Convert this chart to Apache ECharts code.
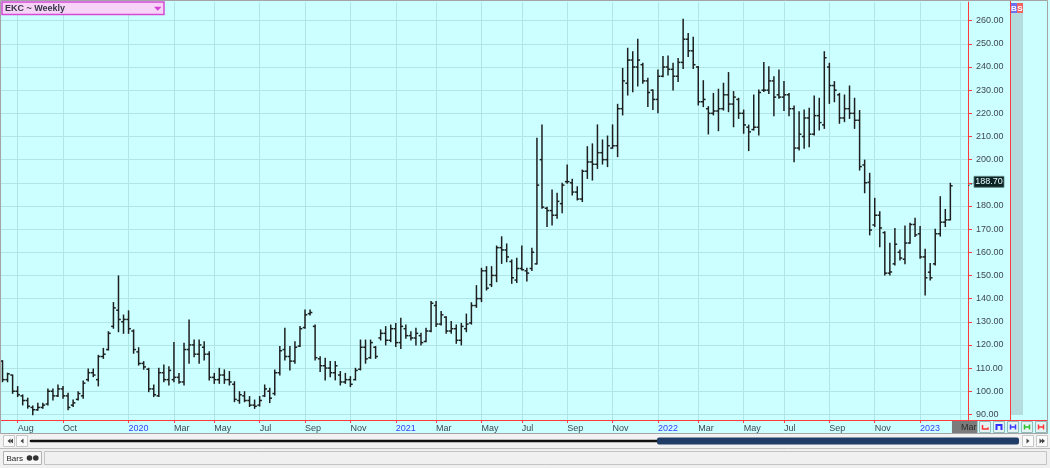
<!DOCTYPE html>
<html><head><meta charset="utf-8">
<script src="https://cdn.jsdelivr.net/npm/echarts@6/dist/echarts.min.js"></script>
<style>html,body{margin:0;padding:0;background:#ccffff;overflow:hidden}#c{width:1050px;height:468px}</style>
</head><body><div id="c"></div>
<script>
// ---- data (weekly OHLC, EKC) ----
const startDate = '2019-07-12';
const highs = [
113.2,107.8,107,102,98.4,97,93.6,94.8,94.8,101,
101,102.7,102,99.1,96.2,99.8,104.4,109.6,109.6,115.5,
118.5,125.7,138.3,149.8,132.9,134.7,126.5,118.8,112.8,109.9,
102.7,109.9,111.3,110.6,121,107.7,120.7,130.8,122.1,122.1,
121.4,117.1,107.7,109.9,109.2,108.5,104.1,99.8,99.8,97.7,
96.2,97.7,102.7,101.3,109.2,119.3,127.2,119.3,121.4,127.9,
135.1,135.1,128.6,114.9,114.2,112.8,112.8,108.5,107.7,106.3,
109.9,122.1,122.1,122.1,119.3,126.5,127.9,128.6,129.3,131.5,
128.6,125.7,127.2,125,127.2,138.7,138.7,134.4,132.2,130.1,
128.6,129.3,133.3,138.2,145.6,153.1,153.8,153.8,162.7,166.7,
163.6,156.7,157.4,162.7,153.1,161.7,209.2,215,179.4,186.9,
185.5,189.8,197.7,191.5,188.3,195.5,205.6,206.8,215,208.5,
210.2,215,223.9,239.4,248.1,246.6,252,241.6,235.1,230.1,
238.7,244.5,244.8,241.6,243.7,260.6,254.5,252.8,240.2,234.1,
222.9,228.6,230.4,233,237.6,229.4,226.5,221.4,214.9,227.9,
230.1,241.9,240.1,235.8,238.7,233.7,228.6,223.2,220.7,221.4,
222.2,227.5,226.5,246.6,241.6,233.7,228.6,227.9,231.8,226.5,
221.2,199.8,194.1,183.3,177.5,168.9,163.9,170.3,161,171.4,
172.5,174.7,171.1,161.3,155.2,169.9,184,178.5,189.8];
const lows = [
104.1,104.1,99.1,97.7,94.1,92.7,89.9,91.8,92.6,94.1,
96.2,97.7,97,92,93.4,96.2,97,104.4,106.3,102.3,
114.2,117.8,127.2,125.7,125,125,116.4,111.3,109.5,99.8,
97.7,97.7,104.1,102.7,104.1,103.4,102.7,112.1,114.9,112.1,
113.5,104.9,103.4,103.4,103.4,102.7,95.5,94.8,95.5,93.4,
92.6,93.6,97.7,95.1,98.4,107,113.5,109.2,112.1,119.3,
127.2,132.9,113.5,108.5,104.9,106.3,104.9,102.7,103.4,102,
104.9,109.2,112.1,114.2,114.2,122.1,120,121.4,119.3,118.5,
122.9,122.1,120,120,121.4,125.7,127.9,128.6,125,125,
120.7,120,125.7,129,136.2,138.7,143.7,145.2,147.3,155.2,
155.9,146.6,146.9,152.4,147.6,152.1,154.9,179,171.1,171.8,
174.7,177.1,189.8,184.7,182.6,181.9,191.9,191.2,196.2,198.1,
197,204.9,201.3,219.3,227.9,229.3,231.8,233,222.9,221.7,
220.3,235.8,236.5,230.1,233.7,239.4,244.5,239.4,223.6,222.9,
211.1,219.3,212.5,221.4,220.7,214.2,217.8,211.4,203.9,212.8,
210.6,229.4,228.6,218.9,226.5,221.2,218.9,199.1,204.2,204.9,
205.6,210.6,212.8,213.5,224.3,225,215.7,216.4,217.8,213.5,
195.5,185.7,167.5,171.1,162.4,150.2,150.2,154.5,156.7,155,
163.9,166.8,157.4,141.6,148,154.5,167,171.1,174];
const opens = [
113,105,107,100,98,96,93,92,93,94.5,
100,98,101,98,94,96.5,98,105,108,105,
115,118,128,135,130,131,126,117,112,109.5,
101,98,108,105,105,106,104,118,120,116,
119,116,106,105,107,105,103,96,98,96,
94,94,98,100,99,108,118,115,113,119.5,
127.5,133.5,128,114,111,110,108,107,104,105,
105,109.5,119,114.5,119,123,125,122,127,121,
127,124,123,124,121.5,126,137,129,132,126,
127,122,127,129.5,137,140,152,146,150,162,
161,156,148,153,152,153,155,200,179,178,
176,181,190.5,190,186,183,195,199,198,203,
200,205,206,222,233,243,240,241,234,230,
226,236,240,239,236,242,252,247,240,225,
222,220,221,222,228,224,226,220,214,213,
214,230,230,234,228,227,228,222,205,210,
218,211,219,215,240,232,228,218,222,220,
217,197.7,190.2,171.8,176,168.5,151,155,160,157,
164,172,168,158,151.4,155,168,173,174];
const closes = [
105,107.5,100,98.5,96,93.5,92,93,94,100,
98,101,98,93,95,99,103.5,108,107,115,
116,125,136,131,131,127,118,112,110.5,101,
98.5,108,105,109,106,104,118,120,116,120,
116,106,105,107,105,104,96.5,98.5,96,94,
93.5,96,101,97,108,117.5,115,113,119,127,
133,134,114.5,111,110,108,111,104,105,103,
109,119,114,121,115,125,122,127,121,128,
124,123,125,121,126,138,129,133,126,127,
122,128,129,137,140,152,144.5,150,162,161,
158,149,153,152.5,151,160,189,179.5,178,176,
182,189,190.5,186,183,195,199,198,203,200,
206,206,222,234,243,240,243,234,229,226,
236,240,239,236,242,252,247,241,225,226,
220,221,222,228,224,227,220,215,212,214,
229,230,234,227,227,228,222,205,211,218,
211,219,216,244,232,230,218,222,220,217,
197,190,169.6,176,170.5,151,151.5,163.5,157.5,164,
172,167.5,158,149,149,168,173,174,188.7];
const tickDates = ['2019-08-02','2019-10-04','2020-01-03','2020-03-06','2020-05-01','2020-07-03',
  '2020-09-04','2020-11-06','2021-01-08','2021-03-05','2021-05-07','2021-07-02','2021-09-03',
  '2021-11-05','2022-01-07','2022-03-04','2022-05-06','2022-07-01','2022-09-02','2022-11-04','2023-01-06'];
const cursorDate = '2023-03-03';
const cursorText = 'Mar';
const yTicks = [90,100,110,120,130,140,150,160,170,180,190,200,210,220,230,240,250,260];
const futureSlots = 3;
const monthAbbr = ['Jan','Feb','Mar','Apr','May','Jun','Jul','Aug','Sep','Oct','Nov','Dec'];
const titleText = 'EKC ~ Weekly';

// ---- categories: weekly dates ----
const dates = [];
(function(){
  let t = Date.parse(startDate + 'T00:00:00Z');
  for (let i = 0; i < opens.length + futureSlots; i++) {
    let s = new Date(t).toISOString().slice(0,10);
    if (s === '2021-01-01') s = '2020-12-31';
    dates.push(s);
    t += 7 * 86400000;
  }
})();
const labelSet = new Set(tickDates);
const tickSet = new Set(tickDates.concat([cursorDate]));

const FONT = '"Liberation Sans", Arial, sans-serif';
const RED = '#ff3b3b';
const GRID = '#b0e6e6';
const TXT = '#3f4752';

const ohlc = opens.map((o, i) => [i, o, closes[i], lows[i], highs[i]]);

function renderItem(params, api) {
  const idx = api.value(0);
  const o = api.coord([idx, api.value(1)]);
  const c = api.coord([idx, api.value(2)]);
  const l = api.coord([idx, api.value(3)]);
  const h = api.coord([idx, api.value(4)]);
  const x = h[0];
  const t = 2.3;
  const st = { stroke: '#1e1e1e', lineWidth: 1.5 };
  return { type: 'group', children: [
    { type: 'line', shape: { x1: x, y1: h[1] - 0.5, x2: x, y2: l[1] + 0.5 }, style: st },
    { type: 'line', shape: { x1: x - t, y1: o[1], x2: x, y2: o[1] }, style: st },
    { type: 'line', shape: { x1: x, y1: c[1], x2: x + t, y2: c[1] }, style: st }
  ]};
}

const chart = echarts.init(document.getElementById('c'), null, { renderer: 'canvas' });

function btn(x, y, w, h, fill, stroke) {
  return { type: 'rect', shape: { x: x, y: y, width: w, height: h }, style: { fill: fill, stroke: stroke, lineWidth: 1 }, silent: true };
}
function seg(pts, color, lw) {
  return { type: 'polyline', shape: { points: pts }, style: { stroke: color, lineWidth: lw || 1.5, fill: null }, silent: true };
}
function iconBar(x, y, color) {
  return [seg([[x + 3, y + 3], [x + 3, y + 8]], color), seg([[x + 8, y + 3], [x + 8, y + 8]], color), seg([[x + 3, y + 5.5], [x + 8, y + 5.5]], color)];
}

const graphics = [
  // outer frame
  { type: 'rect', shape: { x: 0.5, y: 0.5, width: 1047, height: 433 }, style: { fill: null, stroke: '#a4a4a4', lineWidth: 1 }, silent: true, z: 100 },
  // right strip and B/S boxes
  { type: 'rect', shape: { x: 1011, y: 3, width: 12, height: 412 }, style: { fill: '#b4dcdc' }, silent: true },
  { type: 'line', shape: { x1: 1010.5, y1: 0, x2: 1010.5, y2: 420 }, style: { stroke: RED, lineWidth: 1 }, silent: true },
  { type: 'rect', shape: { x: 1011, y: 3, width: 6, height: 10 }, style: { fill: '#6f6ff2' }, silent: true },
  { type: 'rect', shape: { x: 1017, y: 3, width: 6, height: 10 }, style: { fill: '#f06464' }, silent: true },
  { type: 'text', x: 1014, y: 8.5, style: { text: 'B', fill: '#ffffff', font: 'bold 8px ' + FONT, align: 'center', verticalAlign: 'middle' }, silent: true },
  { type: 'text', x: 1020, y: 8.5, style: { text: 'S', fill: '#ffffff', font: 'bold 8px ' + FONT, align: 'center', verticalAlign: 'middle' }, silent: true },
  // bottom red line across
  { type: 'line', shape: { x1: 0, y1: 420.5, x2: 1048, y2: 420.5 }, style: { stroke: RED, lineWidth: 1 }, silent: true },
  // title box
  { type: 'rect', shape: { x: 2, y: 2, width: 162, height: 12.5 }, style: { fill: '#f7d3f7', stroke: '#d64ad6', lineWidth: 1.5 }, silent: true, z: 50 },
  { type: 'text', x: 5, y: 8.6, style: { text: titleText, fill: '#35354a', font: 'bold 9px ' + FONT, verticalAlign: 'middle' }, silent: true, z: 51 },
  { type: 'polygon', shape: { points: [[154, 6.8], [161.5, 6.8], [157.75, 10.8]] }, style: { fill: '#d63cd6' }, silent: true, z: 51 },
  // small buttons right of the date row
  btn(979.5, 421.5, 11, 11, '#e4f4f4', '#93bcbc'),
  btn(993.5, 421.5, 11, 11, '#e4f4f4', '#93bcbc'),
  btn(1007.5, 421.5, 11, 11, '#e4f4f4', '#93bcbc'),
  btn(1021.5, 421.5, 11, 11, '#e4f4f4', '#93bcbc'),
  btn(1035.5, 421.5, 11, 11, '#e4f4f4', '#93bcbc'),
  seg([[982.5, 425], [982.5, 429], [988, 429], [988, 427.5]], '#ff3030'),
  seg([[996.5, 430], [996.5, 425], [1001.5, 425], [1001.5, 430]], '#3030ff', 2),
  ...iconBar(1007.5, 421.5, '#3a3aff'),
  ...iconBar(1021.5, 421.5, '#2fc02f'),
  ...iconBar(1035.5, 421.5, '#ff3a3a'),
  // scroll row
  { type: 'rect', shape: { x: 0, y: 434, width: 1050, height: 14 }, style: { fill: '#f2f2f2' }, silent: true },
  btn(3.5, 435.5, 11, 11, '#fbfbfb', '#c9c9c9'),
  btn(16.5, 435.5, 11, 11, '#fbfbfb', '#c9c9c9'),
  btn(1022.5, 435.5, 11, 11, '#fbfbfb', '#c9c9c9'),
  btn(1036.5, 435.5, 11, 11, '#fbfbfb', '#c9c9c9'),
  { type: 'polygon', shape: { points: [[10.5, 438.5], [10.5, 443.5], [7.5, 441]] }, style: { fill: '#444' }, silent: true },
  { type: 'polygon', shape: { points: [[13, 438.5], [13, 443.5], [10, 441]] }, style: { fill: '#444' }, silent: true },
  { type: 'polygon', shape: { points: [[23.5, 438.5], [23.5, 443.5], [20.5, 441]] }, style: { fill: '#444' }, silent: true },
  { type: 'polygon', shape: { points: [[1026.5, 438.5], [1026.5, 443.5], [1029.5, 441]] }, style: { fill: '#444' }, silent: true },
  { type: 'polygon', shape: { points: [[1039.5, 438.5], [1039.5, 443.5], [1042.5, 441]] }, style: { fill: '#444' }, silent: true },
  { type: 'polygon', shape: { points: [[1042, 438.5], [1042, 443.5], [1045, 441]] }, style: { fill: '#444' }, silent: true },
  { type: 'line', shape: { x1: 31, y1: 441, x2: 658, y2: 441 }, style: { stroke: '#111111', lineWidth: 2.6, lineCap: 'round' }, silent: true },
  { type: 'rect', shape: { x: 657, y: 437.5, width: 362, height: 7, r: 2 }, style: { fill: '#1f3d66' }, silent: true },
  // status bar
  { type: 'rect', shape: { x: 0, y: 448, width: 1050, height: 20 }, style: { fill: '#f0f0f0' }, silent: true },
  { type: 'line', shape: { x1: 0, y1: 448.5, x2: 1050, y2: 448.5 }, style: { stroke: '#bdbdbd', lineWidth: 1 }, silent: true },
  btn(3.5, 451.5, 38, 13, '#f7f7f7', '#b3b3b3'),
  { type: 'text', x: 6.5, y: 458.3, style: { text: 'Bars', fill: '#222222', font: '8px ' + FONT, verticalAlign: 'middle' }, silent: true },
  { type: 'circle', shape: { cx: 29.5, cy: 458, r: 2.8 }, style: { fill: '#333333' }, silent: true },
  { type: 'circle', shape: { cx: 35.8, cy: 458, r: 2.8 }, style: { fill: '#333333' }, silent: true },
  btn(44.5, 451.5, 1002, 13, '#f0f0f0', '#c4c4c4')
];

const option = {
  animation: false,
  backgroundColor: '#ccffff',
  grid: { left: -0.5, width: 968.5, top: 2, height: 418, containLabel: false },
  xAxis: {
    type: 'category', data: dates, boundaryGap: true,
    axisLine: { show: true, lineStyle: { color: RED, width: 1 } },
    axisTick: { show: true, alignWithLabel: true, length: 3, interval: (i, v) => tickSet.has(v), lineStyle: { color: RED } },
    axisLabel: {
      show: true, interval: (i, v) => labelSet.has(v), align: 'left', margin: 4,
      fontFamily: FONT, fontSize: 9, color: TXT,
      formatter: (v) => { const m = +v.slice(5, 7); return m === 1 ? '{y|' + v.slice(0, 4) + '}' : '{m|' + monthAbbr[m - 1] + '}'; },
      rich: { y: { color: '#3b3bff', fontFamily: FONT, fontSize: 9 }, m: { color: TXT, fontFamily: FONT, fontSize: 9 } }
    },
    splitLine: { show: true, alignWithLabel: true, interval: (i, v) => tickSet.has(v), lineStyle: { color: GRID, width: 1 } }
  },
  yAxis: {
    type: 'value', position: 'right', min: 87.58, max: 268.07, scale: true,
    axisLine: { show: true, lineStyle: { color: RED, width: 1 } },
    axisTick: { show: true, length: 4, customValues: yTicks, lineStyle: { color: RED } },
    axisLabel: { show: true, customValues: yTicks, formatter: (v) => v.toFixed(2), margin: 8, padding: [0, 0, 7, 0],
      fontFamily: FONT, fontSize: 9, color: TXT },
    splitLine: { show: true, lineStyle: { color: GRID, width: 1 } }
  },
  series: [{ type: 'custom', data: ohlc, renderItem: renderItem, clip: true, encode: { x: 0, y: [1, 2, 3, 4] }, silent: true }],
  graphic: graphics
};
chart.setOption(option);

// last price tag and cursor date tag, positioned through the axes
const lastClose = closes[closes.length - 1];
const py = chart.convertToPixel({ yAxisIndex: 0 }, lastClose);
const px = chart.convertToPixel({ xAxisIndex: 0 }, cursorDate);
chart.setOption({ graphic: graphics.concat([
  { type: 'rect', shape: { x: 974, y: py - 9.5, width: 30, height: 11 }, style: { fill: '#0c2424', stroke: '#5f8585', lineWidth: 0.8 }, silent: true, z: 60 },
  { type: 'text', x: 989, y: py - 3.8, style: { text: lastClose.toFixed(2), fill: '#e6ffff', font: '9px ' + FONT, align: 'center', verticalAlign: 'middle' }, silent: true, z: 61 },
  { type: 'line', shape: { x1: 968, y1: py, x2: 974, y2: py - 3 }, style: { stroke: '#335555', lineWidth: 1, lineDash: [2, 1] }, silent: true, z: 60 },
  { type: 'rect', shape: { x: px - 8.5, y: 421, width: 25.5, height: 12 }, style: { fill: '#7b7b7b' }, silent: true, z: 60 },
  { type: 'text', x: px + 0.5, y: 427.3, style: { text: cursorText, fill: '#2c2c2c', font: '9px ' + FONT, verticalAlign: 'middle' }, silent: true, z: 61 }
]) });
</script></body></html>
